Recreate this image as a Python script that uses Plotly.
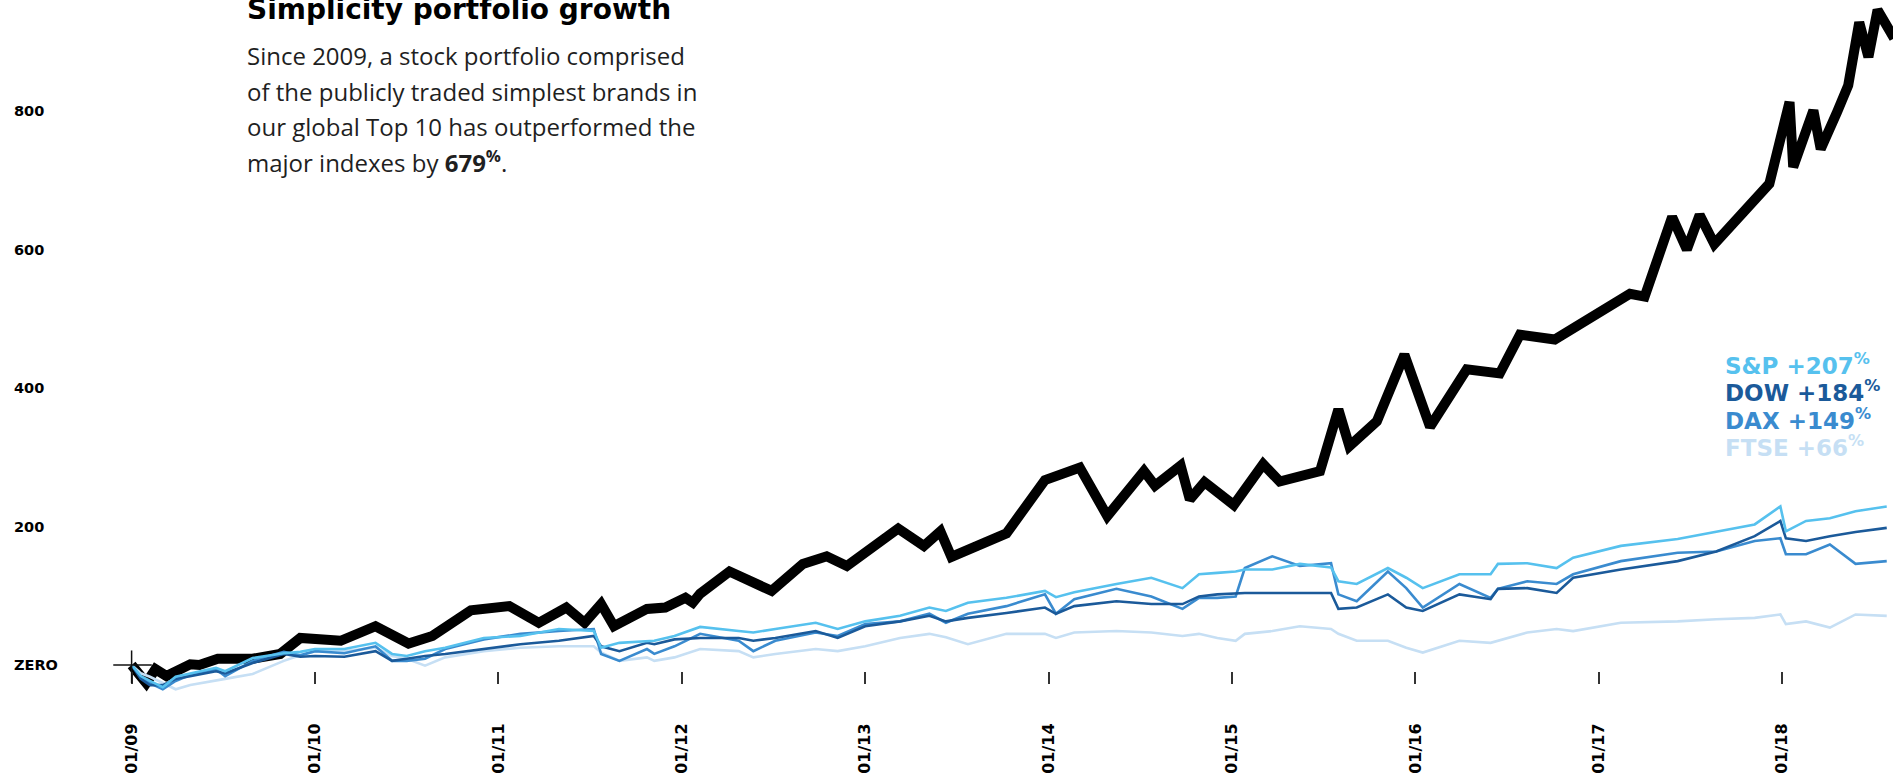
import plotly.graph_objects as go

# --- Simplicity portfolio (growth, %) ---
portfolio_years = [
    2009.00, 2009.08, 2009.13, 2009.19, 2009.32, 2009.37, 2009.47, 2009.54, 2009.66, 2009.81,
    2009.92, 2010.14, 2010.33, 2010.51, 2010.64, 2010.85, 2011.06, 2011.22, 2011.37, 2011.47,
    2011.56, 2011.63, 2011.81, 2011.91, 2012.02, 2012.06, 2012.10, 2012.26, 2012.49, 2012.66,
    2012.79, 2012.90, 2013.18, 2013.32, 2013.41, 2013.47, 2013.77, 2013.98, 2014.17, 2014.32,
    2014.52, 2014.58, 2014.72, 2014.77, 2014.85, 2015.01, 2015.17, 2015.26, 2015.48, 2015.58,
    2015.64, 2015.79, 2015.94, 2016.08, 2016.28, 2016.46, 2016.57, 2016.76, 2017.17, 2017.25,
    2017.40, 2017.48, 2017.55, 2017.63, 2017.93, 2018.04, 2018.06, 2018.17, 2018.21, 2018.30,
    2018.36, 2018.42, 2018.47, 2018.52, 2018.61,
]
portfolio = [
    0, -26, -6, -16, 1, 0, 9, 9, 9, 16,
    39, 35, 56, 31, 42, 79, 85, 61, 83, 61,
    88, 56, 81, 83, 97, 90, 103, 135, 107, 146,
    157, 143, 197, 172, 193, 156, 190, 267, 285, 215,
    280, 259, 288, 239, 264, 231, 290, 265, 280, 369,
    316, 352, 448, 344, 427, 421, 477, 470, 536, 532,
    647, 600, 650, 608, 695, 813, 719, 801, 745, 799,
    837, 928, 878, 946, 905,
]

# --- Major indexes (growth, %) ---
index_years = [
    2009.00, 2009.05, 2009.10, 2009.17, 2009.24, 2009.32, 2009.46, 2009.51, 2009.66, 2009.83,
    2009.92, 2010.00, 2010.16, 2010.33, 2010.42, 2010.50, 2010.60, 2010.71, 2010.92, 2011.12,
    2011.33, 2011.52, 2011.56, 2011.66, 2011.81, 2011.85, 2011.96, 2012.10, 2012.31, 2012.39,
    2012.51, 2012.73, 2012.85, 2013.00, 2013.19, 2013.35, 2013.44, 2013.56, 2013.77, 2013.98,
    2014.04, 2014.14, 2014.37, 2014.56, 2014.73, 2014.82, 2014.92, 2015.02, 2015.07, 2015.22,
    2015.37, 2015.54, 2015.58, 2015.68, 2015.85, 2015.95, 2016.04, 2016.24, 2016.41, 2016.45,
    2016.61, 2016.77, 2016.86, 2017.12, 2017.43, 2017.64, 2017.85, 2017.99, 2018.02, 2018.13,
    2018.26, 2018.40, 2018.57,
]
sp500 = [
    0, -16, -23, -32, -17, -12, -4, -9, 10, 17,
    19, 23, 23, 32, 16, 13, 20, 25, 39, 42,
    52, 49, 25, 32, 35, 35, 42, 55, 49, 47,
    52, 61, 52, 63, 71, 83, 78, 90, 97, 107,
    98, 105, 117, 126, 111, 131, 133, 135, 138, 138,
    146, 141, 121, 117, 140, 126, 111, 131, 131, 146,
    147, 140, 155, 172, 182, 193, 203, 229, 193, 208,
    212, 222, 229,
]
dow = [
    0, -20, -29, -29, -20, -16, -9, -12, 3, 16,
    12, 13, 12, 20, 6, 9, 13, 16, 23, 30,
    35, 42, 27, 20, 32, 30, 37, 39, 39, 35,
    39, 49, 39, 56, 63, 71, 63, 68, 75, 83,
    74, 85, 92, 88, 88, 99, 102, 104, 104, 104,
    104, 104, 81, 83, 102, 83, 78, 102, 95, 110,
    111, 104, 126, 138, 150, 164, 186, 208, 183, 179,
    186, 192, 198,
]
dax = [
    0, -17, -26, -35, -23, -14, -6, -16, 6, 19,
    14, 20, 17, 27, 6, 6, 9, 23, 37, 45,
    49, 52, 16, 6, 23, 16, 27, 45, 35, 20,
    35, 47, 42, 59, 63, 74, 61, 74, 85, 102,
    74, 95, 110, 99, 81, 97, 97, 99, 140, 157,
    143, 147, 102, 92, 135, 111, 83, 117, 97, 110,
    121, 117, 131, 150, 162, 164, 179, 183, 160, 160,
    174, 146, 150,
]
ftse = [
    0, -12, -17, -26, -35, -29, -23, -20, -13, 6,
    14, 20, 20, 25, 13, 9, -1, 11, 20, 25,
    27, 27, 18, 6, 11, 6, 11, 23, 20, 11,
    16, 23, 20, 27, 39, 45, 40, 30, 45, 45,
    39, 47, 49, 47, 42, 45, 39, 35, 45, 49,
    56, 52, 45, 35, 35, 25, 18, 35, 32, 35,
    47, 52, 49, 61, 63, 66, 68, 73, 59, 63,
    54, 73, 71,
]

index_names = ["S&P", "DOW", "DAX", "FTSE"]
index_gains = [207, 184, 149, 66]
index_colors = ["#56c1ee", "#1b5a9a", "#3a8bcf", "#c6dff4"]

tick_years = [2009, 2010, 2011, 2012, 2013, 2014, 2015, 2016, 2017, 2018]
tick_text = ["01/09", "01/10", "01/11", "01/12", "01/13", "01/14", "01/15", "01/16", "01/17", "01/18"]
value_ticks = [0, 200, 400, 600, 800]
value_text = ["ZERO", "200", "400", "600", "800"]

origin_year = 2009
W, H = 1893, 779

fig = go.Figure()

fig.add_trace(go.Scatter(
    x=portfolio_years, y=portfolio, mode="lines",
    line=dict(color="#000000", width=10, shape="linear"),
    hoverinfo="skip", showlegend=False,
))

series = {"S&P": sp500, "DOW": dow, "DAX": dax, "FTSE": ftse}
for name in ["FTSE", "DAX", "DOW", "S&P"]:
    i = index_names.index(name)
    fig.add_trace(go.Scatter(
        x=index_years, y=series[name], mode="lines",
        line=dict(color=index_colors[i], width=2.6),
        hoverinfo="skip", showlegend=False,
    ))

# crosshair at the starting point
fig.add_shape(type="line", xref="x", yref="y",
              x0=origin_year - 0.10, x1=origin_year + 0.11, y0=0, y1=0,
              line=dict(color="#111111", width=1.5))
fig.add_shape(type="line", xref="x", yref="y",
              x0=origin_year, x1=origin_year, y0=21, y1=-26,
              line=dict(color="#111111", width=1.5))

body_font = dict(family="Open Sans, Liberation Sans, sans-serif", size=24, color="#1f1f1f")
annotations = [
    dict(text="<b>Simplicity portfolio growth</b>", x=245 / W, y=1 - 9.5 / H,
         xanchor="left", yanchor="middle",
         font=dict(family="DejaVu Sans, sans-serif", size=28, color="#000000")),
]
body_lines = [
    "Since 2009, a stock portfolio comprised",
    "of the publicly traded simplest brands in",
    "our global Top 10 has outperformed the",
    "major indexes by <b>679<sup>%</sup></b>.",
]
for k, line in enumerate(body_lines):
    annotations.append(dict(text=line, x=245 / W, y=1 - (56 + 35.3 * k) / H,
                            xanchor="left", yanchor="middle", font=body_font))

for i, name in enumerate(index_names):
    annotations.append(dict(
        text=f"<b>{name} +{index_gains[i]}<sup>%</sup></b>",
        x=1723 / W, y=1 - (364 + 27.4 * i) / H,
        xanchor="left", yanchor="middle",
        font=dict(family="DejaVu Sans, sans-serif", size=23, color=index_colors[i]),
    ))

for a in annotations:
    a.update(xref="paper", yref="paper", showarrow=False)

px_per_year = 183.4
x0_px = 131.6
zero_px = 665.0
px_per_unit = 0.6925

fig.update_layout(
    width=W, height=H,
    margin=dict(l=0, r=0, t=0, b=0),
    paper_bgcolor="white", plot_bgcolor="white",
    annotations=annotations,
    xaxis=dict(
        range=[origin_year - x0_px / px_per_year, origin_year + (W - x0_px) / px_per_year],
        domain=[0, 1], anchor="free", position=1 - 671 / H,
        showgrid=False, zeroline=False, showline=False,
        tickmode="array", tickvals=tick_years, ticktext=tick_text,
        ticks="outside", ticklen=12, tickwidth=1.5, tickcolor="#333333",
        tickangle=-90, ticklabelstandoff=33,
        tickfont=dict(family="DejaVu Sans, sans-serif", size=16, color="#000000", weight="bold"),
        fixedrange=True,
    ),
    yaxis=dict(
        range=[-(H - zero_px) / px_per_unit, zero_px / px_per_unit],
        domain=[0, 1],
        showgrid=False, zeroline=False, showline=False,
        tickmode="array", tickvals=value_ticks, ticktext=value_text,
        ticks="", ticklabelposition="inside", ticklabelstandoff=11,
        tickfont=dict(family="DejaVu Sans, sans-serif", size=14.5, color="#000000", weight="bold"),
        fixedrange=True,
    ),
)

fig.write_html("out.html")
